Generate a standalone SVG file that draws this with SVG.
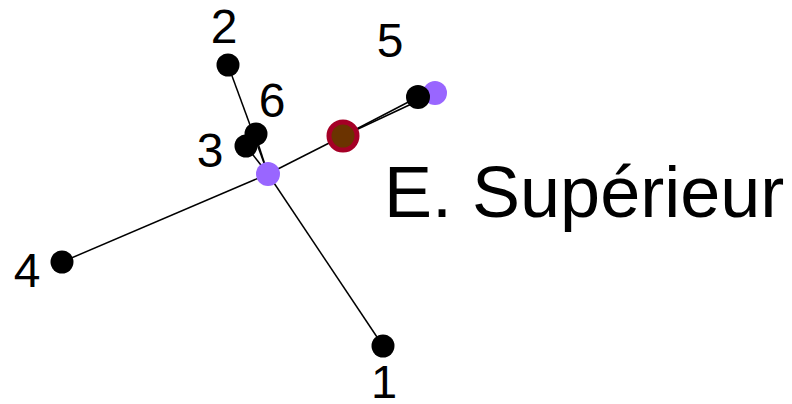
<svg xmlns="http://www.w3.org/2000/svg" width="792" height="404" viewBox="0 0 792 404">
<style>
.e{stroke:#000;stroke-width:1.5;fill:none}
.n{fill:#000}
.p{fill:#9966ff}
.t{font-family:"Liberation Sans",Arial,sans-serif;font-size:48px;fill:#000;text-anchor:middle}
</style>
<rect width="792" height="404" fill="#fff"/>
<g id="connectors">
<line class="e" x1="268" y1="174" x2="228" y2="65"/>
<line class="e" x1="268" y1="174" x2="255" y2="134"/>
<line class="e" x1="268" y1="174" x2="246" y2="146"/>
<line class="e" x1="268" y1="174" x2="62" y2="262"/>
<line class="e" x1="268" y1="174" x2="383" y2="346"/>
<line class="e" x1="268" y1="174" x2="343" y2="136"/>
<line class="e" x1="343" y1="136" x2="418" y2="97"/>
<line class="e" x1="343" y1="136" x2="435" y2="93"/>
</g>
<g id="node-5b"><circle class="p" cx="435" cy="93" r="12"/></g>
<g id="node-5"><circle class="n" cx="418" cy="97" r="12"/><text class="t" x="390" y="57">5</text></g>
<g id="node-2"><circle class="n" cx="228" cy="65" r="11.5"/><text class="t" x="224" y="43">2</text></g>
<g id="node-3"><circle class="n" cx="246" cy="146" r="11.5"/><text class="t" x="210" y="167">3</text></g>
<g id="node-6"><circle class="n" cx="256" cy="134" r="11.5"/><text class="t" x="272" y="117">6</text></g>
<g id="node-4"><circle class="n" cx="62" cy="262" r="11.5"/><text class="t" x="27" y="287">4</text></g>
<g id="node-1"><circle class="n" cx="383" cy="346" r="11.5"/><text class="t" x="384" y="398" style="font-size:47px">1</text></g>
<g id="node-hub"><circle class="p" cx="268" cy="174" r="12"/></g>
<g id="node-red"><circle cx="343" cy="136" r="14" fill="#6b3300" stroke="#a50026" stroke-width="5"/></g>
<g id="label"><text x="384" y="217" style="font-family:'Liberation Sans',Arial,sans-serif;font-size:72px;fill:#000">E. Supérieur</text></g>
</svg>
